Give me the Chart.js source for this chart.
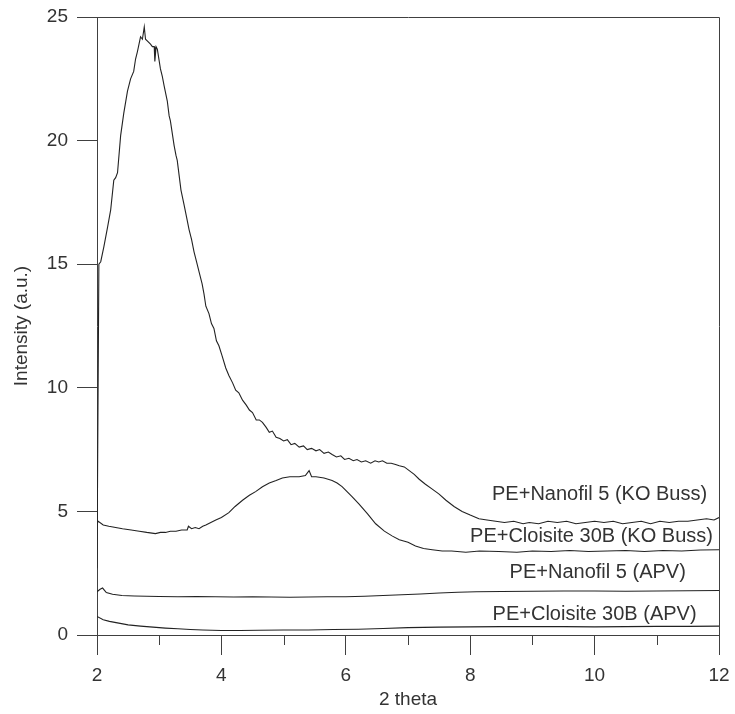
<!DOCTYPE html>
<html>
<head>
<meta charset="utf-8">
<script src="https://cdn.jsdelivr.net/npm/chart.js@4.4.1/dist/chart.umd.min.js"></script>
<style>
  html, body { margin: 0; padding: 0; background: #fff; }
  #wrap { width: 735px; height: 714px; position: relative; }
</style>
</head>
<body>
<div id="wrap"><canvas id="c" width="735" height="714"></canvas></div>
<script>
// ---- data ----
const seriesNames = [
  'PE+Nanofil 5 (KO Buss)',
  'PE+Cloisite 30B (KO Buss)',
  'PE+Nanofil 5 (APV)',
  'PE+Cloisite 30B (APV)'
];

const nanofilKoX = [2.00, 2.03, 2.06, 2.11, 2.17, 2.22, 2.27, 2.30, 2.33, 2.38, 2.43, 2.49, 2.54, 2.59, 2.62, 2.65, 2.70, 2.73, 2.76, 2.78, 2.82, 2.86, 2.89, 2.92, 2.93, 2.95, 2.97, 3.02, 3.05, 3.08, 3.13, 3.16, 3.18, 3.24, 3.27, 3.29, 3.35, 3.40, 3.44, 3.48, 3.52, 3.56, 3.60, 3.64, 3.69, 3.72, 3.75, 3.80, 3.84, 3.88, 3.92, 3.96, 4.01, 4.07, 4.12, 4.18, 4.23, 4.28, 4.34, 4.40, 4.45, 4.50, 4.56, 4.61, 4.66, 4.72, 4.77, 4.82, 4.88, 4.94, 5.00, 5.06, 5.12, 5.18, 5.25, 5.32, 5.38, 5.45, 5.52, 5.58, 5.65, 5.72, 5.78, 5.85, 5.92, 5.98, 6.05, 6.12, 6.18, 6.25, 6.32, 6.40, 6.47, 6.53, 6.59, 6.66, 6.73, 6.80, 6.86, 6.94, 7.02, 7.10, 7.18, 7.28, 7.39, 7.50, 7.61, 7.74, 7.87, 8.00, 8.14, 8.27, 8.41, 8.55, 8.70, 8.85, 8.95, 9.10, 9.25, 9.40, 9.55, 9.70, 9.85, 10.00, 10.15, 10.30, 10.45, 10.60, 10.75, 10.90, 11.05, 11.20, 11.35, 11.50, 11.65, 11.80, 11.92, 12.00];
const nanofilKoY = [2.7, 15.0, 15.1, 15.7, 16.5, 17.2, 18.4, 18.5, 18.7, 20.2, 21.1, 22.0, 22.5, 22.8, 23.3, 23.6, 24.2, 24.1, 24.6, 24.1, 24.0, 23.9, 23.8, 23.8, 23.2, 23.8, 23.7, 22.9, 22.6, 22.2, 21.6, 21.0, 20.8, 19.8, 19.4, 19.2, 18.0, 17.4, 16.9, 16.4, 16.0, 15.5, 15.1, 14.7, 14.2, 13.8, 13.3, 13.0, 12.6, 12.4, 11.9, 11.7, 11.3, 10.8, 10.5, 10.2, 9.9, 9.8, 9.5, 9.3, 9.1, 9.0, 8.7, 8.7, 8.6, 8.4, 8.2, 8.25, 8.0, 7.95, 7.85, 7.9, 7.7, 7.75, 7.6, 7.65, 7.5, 7.55, 7.45, 7.5, 7.35, 7.4, 7.3, 7.2, 7.25, 7.1, 7.15, 7.05, 7.1, 7.0, 7.05, 6.95, 7.05, 7.0, 7.05, 6.95, 6.95, 6.9, 6.85, 6.8, 6.65, 6.5, 6.3, 6.1, 5.9, 5.7, 5.45, 5.2, 5.0, 4.85, 4.7, 4.65, 4.6, 4.55, 4.6, 4.5, 4.55, 4.5, 4.6, 4.55, 4.6, 4.5, 4.55, 4.6, 4.55, 4.6, 4.5, 4.55, 4.6, 4.5, 4.6, 4.55, 4.6, 4.6, 4.65, 4.7, 4.65, 4.75];

const cloisiteKoX = [2.01, 2.02, 2.10, 2.19, 2.30, 2.41, 2.55, 2.68, 2.80, 2.94, 3.02, 3.10, 3.18, 3.27, 3.36, 3.45, 3.47, 3.52, 3.58, 3.64, 3.70, 3.75, 3.83, 3.91, 4.00, 4.12, 4.22, 4.34, 4.45, 4.55, 4.66, 4.77, 4.88, 4.98, 5.10, 5.25, 5.35, 5.41, 5.45, 5.52, 5.65, 5.78, 5.86, 5.94, 6.02, 6.10, 6.21, 6.35, 6.48, 6.62, 6.75, 6.86, 7.00, 7.12, 7.25, 7.39, 7.55, 7.70, 7.93, 8.15, 8.46, 8.75, 9.00, 9.30, 9.60, 9.90, 10.20, 10.50, 10.80, 11.10, 11.40, 11.70, 12.00];
const cloisiteKoY = [4.55, 4.6, 4.45, 4.4, 4.35, 4.3, 4.25, 4.2, 4.15, 4.1, 4.15, 4.15, 4.2, 4.2, 4.25, 4.25, 4.4, 4.3, 4.35, 4.3, 4.4, 4.45, 4.55, 4.65, 4.75, 4.95, 5.2, 5.45, 5.65, 5.8, 6.0, 6.15, 6.25, 6.35, 6.4, 6.4, 6.45, 6.65, 6.4, 6.4, 6.35, 6.25, 6.15, 6.0, 5.8, 5.6, 5.3, 4.9, 4.5, 4.2, 4.0, 3.85, 3.75, 3.6, 3.5, 3.45, 3.4, 3.4, 3.35, 3.4, 3.38, 3.35, 3.4, 3.38, 3.42, 3.38, 3.4, 3.42, 3.38, 3.42, 3.4, 3.44, 3.45];

const nanofilApvX = [2.00, 2.05, 2.09, 2.15, 2.25, 2.40, 2.60, 2.80, 3.00, 3.30, 3.60, 3.90, 4.20, 4.50, 4.80, 5.10, 5.40, 5.70, 6.00, 6.30, 6.60, 6.90, 7.20, 7.50, 7.80, 8.10, 8.50, 9.00, 9.50, 10.00, 10.50, 11.00, 11.50, 12.00];
const nanofilApvY = [1.75, 1.85, 1.9, 1.72, 1.65, 1.6, 1.58, 1.57, 1.56, 1.55, 1.56, 1.55, 1.54, 1.55, 1.54, 1.53, 1.54, 1.55, 1.55, 1.57, 1.6, 1.63, 1.66, 1.7, 1.73, 1.75, 1.76, 1.77, 1.78, 1.78, 1.77, 1.78, 1.79, 1.8];

const cloisiteApvX = [2.00, 2.10, 2.20, 2.35, 2.50, 2.70, 2.90, 3.10, 3.30, 3.50, 3.70, 4.00, 4.30, 4.60, 5.00, 5.40, 5.80, 6.20, 6.60, 7.00, 7.50, 8.00, 8.50, 9.00, 9.50, 10.00, 10.50, 11.00, 11.50, 12.00];
const cloisiteApvY = [0.75, 0.62, 0.55, 0.48, 0.41, 0.36, 0.32, 0.28, 0.25, 0.22, 0.2, 0.18, 0.18, 0.19, 0.2, 0.2, 0.22, 0.23, 0.26, 0.3, 0.32, 0.33, 0.34, 0.34, 0.34, 0.33, 0.34, 0.35, 0.35, 0.36];

// label anchors (data coordinates, text centred)
const labelX = [10.08, 9.95, 10.05, 10.0];
const labelY = [5.67, 3.97, 2.53, 0.85];

const xMin = 2, xMax = 12, xMajorStep = 2, xMinorStep = 1;
const yMin = 0, yMax = 25, yStep = 5;

// ---- build ----
function pts(xs, ys) { return xs.map((x, i) => ({ x: x, y: ys[i] })); }
const seriesX = [nanofilKoX, cloisiteKoX, nanofilApvX, cloisiteApvX];
const seriesY = [nanofilKoY, cloisiteKoY, nanofilApvY, cloisiteApvY];

const LINE = '#222';
const AXIS = '#404040';
const TEXT = '#333';
const FONT = "'Liberation Sans', Arial, sans-serif";

const framePlugin = {
  id: 'frame',
  afterDraw(chart) {
    const ctx = chart.ctx, a = chart.chartArea;
    const xs = chart.scales.x;
    ctx.save();
    ctx.strokeStyle = AXIS;
    ctx.lineWidth = 1;
    // top and right border
    ctx.beginPath();
    ctx.moveTo(Math.round(a.left) + 0.5, Math.round(a.top) + 0.5);
    ctx.lineTo(Math.round(a.right) + 0.5, Math.round(a.top) + 0.5);
    ctx.lineTo(Math.round(a.right) + 0.5, Math.round(a.bottom) + 0.5);
    ctx.stroke();
    // minor x ticks
    ctx.beginPath();
    for (let v = xMin + xMinorStep; v < xMax; v += xMajorStep) {
      const px = Math.round(xs.getPixelForValue(v)) + 0.5;
      ctx.moveTo(px, a.bottom);
      ctx.lineTo(px, a.bottom + 10);
    }
    ctx.stroke();
    // series labels
    ctx.fillStyle = TEXT;
    ctx.font = "20px " + FONT;
    ctx.textAlign = 'center';
    ctx.textBaseline = 'middle';
    const ys = chart.scales.y;
    seriesNames.forEach((n, i) => {
      ctx.fillText(n, xs.getPixelForValue(labelX[i]), ys.getPixelForValue(labelY[i]));
    });
    ctx.restore();
  }
};

new Chart(document.getElementById('c'), {
  type: 'scatter',
  data: {
    datasets: seriesNames.map((n, i) => ({
      label: n,
      data: pts(seriesX[i], seriesY[i]),
      showLine: true,
      borderColor: LINE,
      borderWidth: 1.1,
      pointRadius: 0,
      tension: 0,
      fill: false
    }))
  },
  options: {
    responsive: false,
    animation: false,
    layout: { padding: { top: 17, right: 16, left: 0, bottom: 0 } },
    plugins: { legend: { display: false }, tooltip: { enabled: false } },
    scales: {
      x: {
        type: 'linear', min: xMin, max: xMax,
        afterFit(s) { s.height = 79; s.paddingLeft = 0; s.paddingRight = 0; },
        border: { display: true, color: AXIS, width: 1 },
        grid: { display: true, drawOnChartArea: false, drawTicks: true, tickLength: 20, color: AXIS, lineWidth: 1 },
        ticks: { stepSize: xMajorStep, color: TEXT, font: { family: FONT, size: 19 }, padding: 9, maxRotation: 0 },
        title: { display: true, text: '2 theta', color: TEXT, font: { family: FONT, size: 19 }, padding: { top: 0, bottom: 3 } }
      },
      y: {
        type: 'linear', min: yMin, max: yMax,
        afterFit(s) { s.width = 97; s.paddingTop = 0; s.paddingBottom = 0; },
        border: { display: true, color: AXIS, width: 1 },
        grid: { display: true, drawOnChartArea: false, drawTicks: true, tickLength: 20, color: AXIS, lineWidth: 1 },
        ticks: { stepSize: yStep, color: TEXT, font: { family: FONT, size: 19 }, padding: 9 },
        title: { display: true, text: 'Intensity (a.u.)', color: TEXT, font: { family: FONT, size: 19 }, padding: { top: 10, bottom: 0 } }
      }
    }
  },
  plugins: [framePlugin]
});
</script>
</body>
</html>
